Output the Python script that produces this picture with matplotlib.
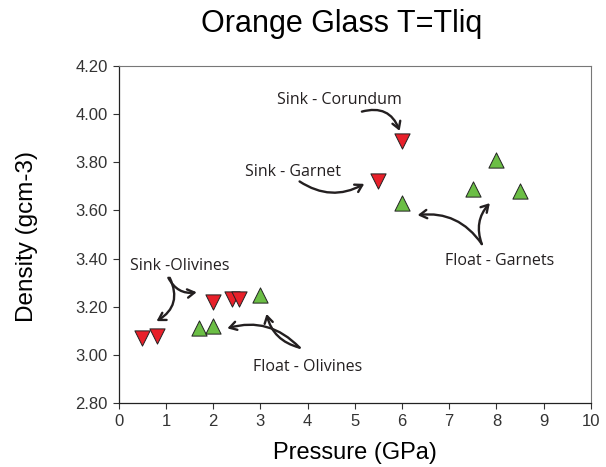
import matplotlib.pyplot as plt

# sink (red, down triangles)
sink_p = [0.5, 0.8, 2.0, 2.4, 2.55, 5.5, 6.0]
sink_d = [3.07, 3.08, 3.22, 3.23, 3.23, 3.72, 3.89]
# float (green, up triangles)
float_p = [1.7, 2.0, 3.0, 6.0, 7.5, 8.0, 8.5]
float_d = [3.11, 3.12, 3.25, 3.63, 3.69, 3.81, 3.68]

x_ticks = list(range(0, 11))
y_ticks = [2.80, 3.00, 3.20, 3.40, 3.60, 3.80, 4.00, 4.20]

# label text, text position, list of (arrow start, arrow end, curvature)
labels = [
    ("Sink -Olivines", (1.3, 3.37), [((1.08, 3.32), (0.8, 3.14), -0.45),
                                      ((1.05, 3.32), (1.65, 3.26), 0.35)]),
    ("Float - Olivines", (4.0, 2.95), [((3.83, 3.03), (2.3, 3.11), 0.3),
                                        ((3.83, 3.03), (3.13, 3.17), -0.3)]),
    ("Sink - Corundum", (4.68, 4.06), [((5.15, 4.01), (5.95, 3.93), -0.45)]),
    ("Sink - Garnet", (3.69, 3.76), [((3.83, 3.72), (5.2, 3.71), 0.3)]),
    ("Float - Garnets", (8.07, 3.39), [((7.69, 3.46), (6.33, 3.58), 0.3),
                                        ((7.69, 3.46), (7.86, 3.63), -0.3)]),
]

RED = '#E8202A'
GREEN = '#6BBE45'

fig = plt.figure(figsize=(6.06, 4.67), dpi=100)
ax = fig.add_axes([0.196, 0.137, 0.779, 0.722])

ax.scatter(sink_p, sink_d, marker='v', s=120, color=RED, edgecolor='#222222',
           linewidth=0.7, zorder=3)
ax.scatter(float_p, float_d, marker='^', s=120, color=GREEN, edgecolor='#222222',
           linewidth=0.7, zorder=3)

for text, pos, arrows in labels:
    ax.text(pos[0], pos[1], text, ha='center', va='center', fontsize=11.5,
            family='Open Sans', color='#231F20')
    for start, end, rad in arrows:
        ax.annotate('', xy=end, xytext=start,
                    arrowprops=dict(arrowstyle='->,head_length=0.5,head_width=0.3',
                                    connectionstyle=f'arc3,rad={rad}',
                                    color='#231F20', lw=1.7,
                                    shrinkA=0, shrinkB=0))

ax.set_xlim(0, 10)
ax.set_ylim(2.80, 4.20)
ax.set_xticks(x_ticks)
ax.set_yticks(y_ticks)
ax.set_yticklabels([f'{v:.2f}' for v in y_ticks])
ax.tick_params(direction='out', length=4, width=0.8, labelsize=12,
               colors='#333333', pad=4)
for lab in ax.get_xticklabels() + ax.get_yticklabels():
    lab.set_family('Liberation Sans')

for side in ['top', 'right']:
    ax.spines[side].set_color('#777777')
    ax.spines[side].set_linewidth(0.8)
for side in ['left', 'bottom']:
    ax.spines[side].set_color('#222222')
    ax.spines[side].set_linewidth(0.9)

ax.set_xlabel('Pressure (GPa)', fontsize=17, family='Liberation Sans', labelpad=9)
ax.set_ylabel('Density (gcm-3)', fontsize=17.5, family='Liberation Sans')
ax.yaxis.set_label_coords(-0.172, 0.495)
fig.text(0.563, 0.948, 'Orange Glass T=Tliq', ha='center', va='center',
         fontsize=22, family='Liberation Sans')

fig.savefig('out.png', dpi=100)
